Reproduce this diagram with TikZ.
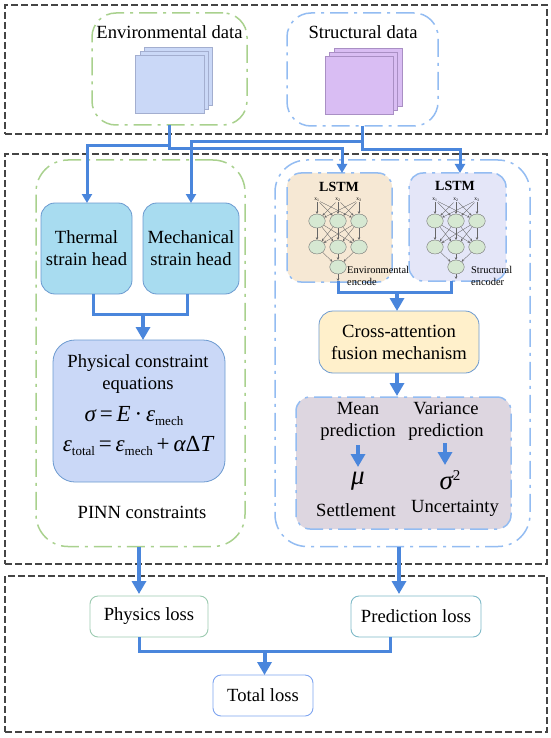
\documentclass[tikz,border=0pt]{standalone}
\usepackage{fontspec}
\setmainfont{Liberation Serif}
\usetikzlibrary{arrows.meta,calc,shapes.geometric}
\definecolor{frameC}{HTML}{454545}
\definecolor{greenD}{HTML}{A9D18E}
\definecolor{blueD}{HTML}{93BCF2}
\definecolor{connC}{HTML}{4A86DC}
\definecolor{sheetAf}{HTML}{CAD8F7}
\definecolor{sheetBf}{HTML}{D9BDF3}
\definecolor{neuronF}{HTML}{D6E8D2}
\definecolor{headF}{HTML}{A8DCF0}
\definecolor{headD}{HTML}{6C9AD0}
\definecolor{sheetAd}{HTML}{A3AECF}
\definecolor{sheetBd}{HTML}{A98FC4}
\newcommand\rbox[7]{%
  \pgfmathsetmacro\cxx{(#2+#4)/2}\pgfmathsetmacro\cyy{(#3+#5)/2}%
  \pgfmathsetmacro\www{#4-#2}\pgfmathsetmacro\hhh{#5-#3}%
  \node[inner sep=0,outer sep=0,minimum width=\www pt,minimum height=\hhh pt,#6] (#1) at (\cxx,\cyy) {#7};}
\newcommand\sbs[1]{\raisebox{-0.3ex}{\fontsize{13}{13}\selectfont #1}}
\newcommand\lstmnet[2]{%
  \foreach \i/\dx in {1/-21,2/0,3/21}{%
    \node[inlab] (#1x\i) at (#2+\dx,200) {x\textsubscript{\i}};
    \node[neuron] (#1a\i) at (#2+\dx,221) {};
    \node[neuron] (#1b\i) at (#2+\dx,247) {};
  }
  \node[neuron] (#1o) at (#2,267) {};
  \foreach \i in {1,2,3}{%
    \foreach \j in {1,2,3}{%
      \draw[netl] (#1x\i) -- (#1a\j);
      \draw[netl] (#1a\i) -- (#1b\j);
    }
    \draw[netl] (#1b\i) -- (#1o);
  }}
\tikzset{
  frameb/.style={draw=frameC,line width=2pt,dash pattern=on 7pt off 3pt},
  ddgreen/.style={draw=greenD,line width=1.5pt,rounded corners=24pt,dash pattern=on 18pt off 6pt on 3pt off 6pt},
  ddblue/.style={draw=blueD,line width=1.5pt,rounded corners=24pt,dash pattern=on 18pt off 6pt on 3pt off 6pt},
  sheetA/.style={draw=sheetAd,fill=sheetAf,line width=.8pt},
  sheetB/.style={draw=sheetBd,fill=sheetBf,line width=.8pt},
  txt/.style={font=\fontsize{18.6}{22}\selectfont,align=center,inner sep=0},
  inner/.style={font=\fontsize{18.6}{22}\selectfont,align=center,rounded corners=14pt,line width=.8pt},
  headb/.style={inner,draw=headD,fill=headF},
  lossb/.style={font=\fontsize{18.6}{22}\selectfont,rounded corners=8pt,line width=.9pt,fill=white},
  conn/.style={draw=connC,line width=3pt},
  connA/.style={conn,-{Triangle[width=10pt,length=9pt]}},
  connB/.style={draw=connC,line width=4pt,-{Triangle[width=14pt,length=13pt]}},
  neuron/.style={draw=black!55,fill=neuronF,ellipse,minimum width=16.5pt,minimum height=14pt,inner sep=0,line width=.4pt},
  inlab/.style={font=\fontsize{5.5}{6}\selectfont,inner sep=.5pt},
  netl/.style={draw=black!60,line width=.35pt,-{Stealth[length=2.5pt,width=2.5pt]}},
  lstmt/.style={font=\fontsize{14}{16}\bfseries\selectfont,inner sep=0},
  smalll/.style={font=\fontsize{10.4}{12}\selectfont,align=left,inner sep=0,anchor=north west},
}
\begin{document}
\begin{tikzpicture}[x=1pt,y=-1pt]
\useasboundingbox (0,0) rectangle (550,738);
\fill[white] (0,0) rectangle (550,738);
% frames
\rbox{ftop}{5}{5}{547}{134}{frameb}{}
\rbox{fmid}{5}{154}{547}{564}{frameb}{}
\rbox{fbot}{5}{576}{547}{732}{frameb}{}
% top inputs
\rbox{envd}{92}{13}{247}{125}{ddgreen}{}
\rbox{strd}{287}{13}{438}{126}{ddblue}{}
\node[txt] (envt) at (169.5,32) {Environmental data};
\node[txt] (strt) at (363,32) {Structural data};
\rbox{es3}{144}{47}{212}{105}{sheetA}{}
\rbox{es2}{140}{51}{208}{109}{sheetA}{}
\rbox{es1}{135}{55}{204}{113}{sheetA}{}
\rbox{ss3}{334}{48}{402}{106}{sheetB}{}
\rbox{ss2}{329}{52}{397}{110}{sheetB}{}
\rbox{ss1}{325}{56}{393}{114}{sheetB}{}
% left panel
\rbox{pinn}{36}{160}{245}{546.5}{ddgreen,rounded corners=32pt}{}
\rbox{therm}{41}{203}{132}{294}{headb}{Thermal\\strain head}
\rbox{mech}{143}{203}{239}{294}{headb}{Mechanical\\strain head}
\rbox{phys}{53}{340}{225}{482}{inner,rounded corners=22pt,draw=headD,fill=sheetAf}{}
\node[txt] (physt) at (138,374) {Physical constraint\\equations};
\node[txt,font=\fontsize{23}{26}\selectfont] (eq1) at (134,416) {{\itshape σ}\,=\,{\itshape E}\,·\,{\itshape ε}\sbs{mech}};
\node[txt,font=\fontsize{23}{26}\selectfont] (eq2) at (138,446) {{\itshape ε}\sbs{total}\,=\,{\itshape ε}\sbs{mech}\,+\,{\itshape α}Δ{\itshape T}};
\node[txt] (pinnt) at (142,512) {PINN constraints};
% right panel
\rbox{unc}{275}{160}{530}{546.5}{ddblue,rounded corners=32pt}{}
\rbox{lstme}{287}{173}{392}{282}{ddblue,rounded corners=14pt,fill={rgb,255:red,246;green,232;blue,212}}{}
\rbox{lstms}{409}{173}{506}{281}{ddblue,rounded corners=14pt,fill={rgb,255:red,228;green,230;blue,248}}{}
\node[lstmt] (lte) at (339,187) {LSTM};
\node[lstmt] (lts) at (455,186) {LSTM};
\lstmnet{e}{338}
\lstmnet{s}{456}
\node[smalll] (ele) at (347,266) {Environmental\\encode};
\node[smalll] (sle) at (471,266) {Structural\\encoder};
\rbox{cross}{319}{311}{479}{373}{inner,draw=headD,fill={rgb,255:red,255;green,240;blue,203}}{Cross-attention\\fusion mechanism}
\rbox{pred}{296}{397}{511}{529}{ddblue,rounded corners=14pt,fill={rgb,255:red,221;green,214;blue,224}}{}
\node[txt] (mean) at (358,421.5) {Mean\\prediction};
\node[txt] (vari) at (446,421.5) {Variance\\prediction};
\node[txt,font=\fontsize{27}{30}\selectfont\itshape] (mu) at (358,481) {μ};
\node[txt,font=\fontsize{27}{30}\selectfont\itshape] (sig) at (450,480) {σ\raisebox{.75ex}{\upshape\fontsize{15}{15}\selectfont 2}};
\node[txt] (setl) at (356,510) {Settlement};
\node[txt] (unct) at (455,508) {Uncertainty};
% loss
\rbox{lphy}{90}{596}{208}{637}{lossb,draw={rgb,255:red,156;green,203;blue,176}}{Physics loss}
\rbox{lpre}{351}{596}{481}{637}{lossb,draw={rgb,255:red,127;green,186;blue,200}}{Prediction loss}
\rbox{ltot}{213}{675}{313}{716}{lossb,draw={rgb,255:red,127;green,165;blue,240}}{Total loss}
% connector helpers
\coordinate (je) at (envd.south);
\coordinate (js) at (strd.south);
\coordinate (tthe) at (87,203);
\coordinate (tmec) at (191,203);
\coordinate (tle) at (342,173);
\coordinate (tls) at (460,173);
% top connectors
\draw[connA] (je) -- ($(je)+(0,21)$) -| (tthe);
\draw[connA] (je) -- ($(je)+(0,24)$) -| (tle);
\draw[connA] (js) -- ($(js)+(0,16)$) -| (tmec);
\draw[connA] (js) -- ($(js)+(0,24)$) -| (tls);
% left
\coordinate (tbl) at (93,294);
\coordinate (tbr) at (187,294);
\coordinate (jl) at (143,314);
\draw[conn] (tbl) |- (jl) -| (tbr);
\draw[connB] (jl) -- (jl |- phys.north);
% right
\coordinate (ebot) at (338,281);
\coordinate (sbot) at (451,281);
\coordinate (jr) at (397,292);
\draw[netl] (eo) -- (ebot);
\draw[netl] (so) -- (456,279);
\draw[conn] (ebot) |- (jr) -| (sbot);
\draw[connB] (jr) -- (jr |- cross.north);
\draw[connB] (cross.south -| jr) -- (397,396);
\draw[connB] (358,445) -- (358,467);
\draw[connB] (445,443) -- (445,465);
% to loss
\coordinate (pb) at (139,546.5);
\coordinate (ub) at (399,546.5);
\draw[connB] (pb) -- (139,594);
\draw[connB] (ub) -- (399,594);
\coordinate (lb1) at (139,637);
\coordinate (lb2) at (390,637);
\coordinate (jb) at (264.5,651.5);
\draw[conn] (lb1) |- (jb) -| (lb2);
\draw[connB] (jb) -- (jb |- ltot.north);
\end{tikzpicture}
\end{document}
